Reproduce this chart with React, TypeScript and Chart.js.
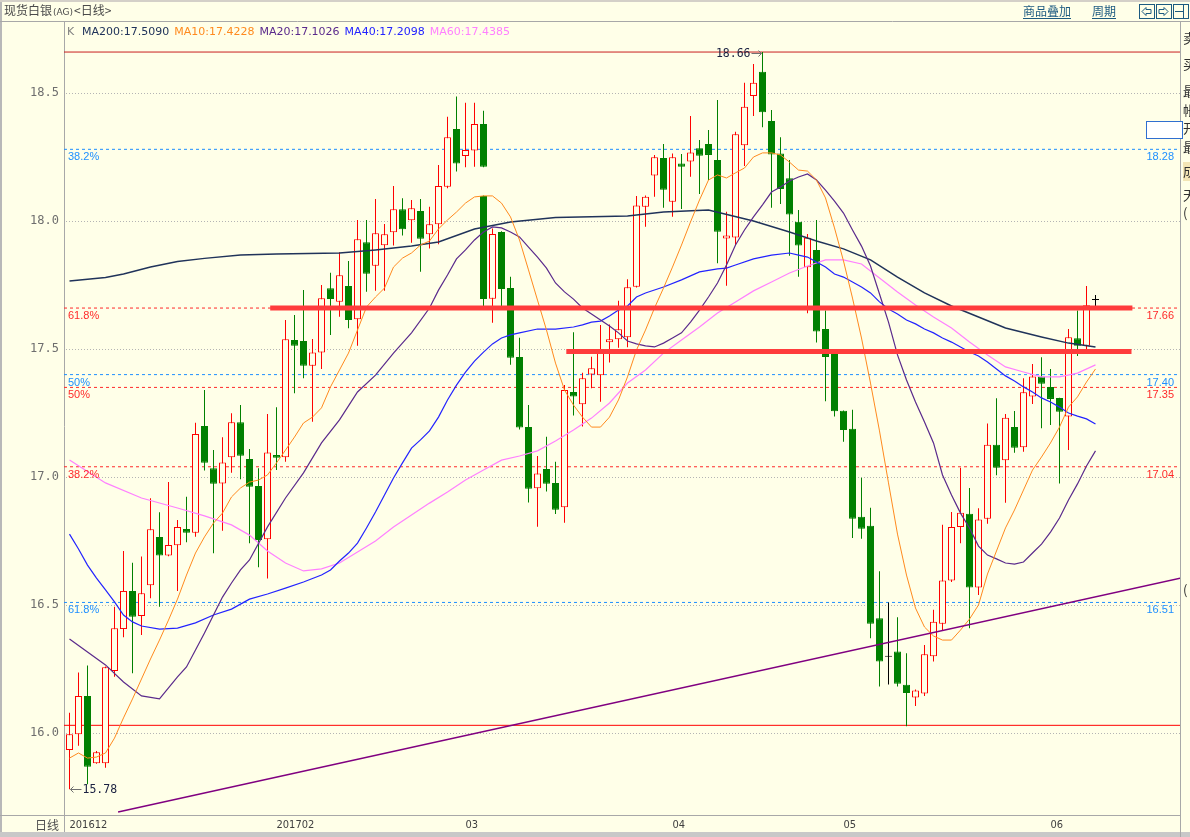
import React, { useEffect, useRef } from "react";
import { Chart, registerables } from "chart.js";

Chart.register(...registerables);

// ---------------- daily quotes (现货白银 AG, 2016-12 .. 2017-06) ----------------
const openP = [
  15.934, 15.995, 16.145, 15.882, 15.882, 16.242, 16.406, 16.555, 16.457, 16.577,
  16.766, 16.693, 16.733, 16.797, 16.782, 17.199, 17.034, 16.975, 17.077, 17.214,
  17.070, 16.965, 16.757, 17.086, 17.077, 17.535, 17.531, 17.435, 17.486, 17.737,
  17.685, 17.746, 17.616, 17.917, 17.825, 17.905, 17.956, 18.046, 18.003, 18.039,
  17.948, 17.987, 18.134, 18.359, 18.254, 18.275, 18.379, 18.098, 17.696, 17.957,
  17.738, 17.469, 17.195, 16.956, 17.031, 16.977, 16.882, 17.332, 17.284, 17.400,
  17.397, 17.526, 17.538, 17.546, 17.743, 18.056, 18.178, 18.246, 18.075, 18.225,
  18.232, 18.284, 18.301, 18.238, 17.932, 17.936, 18.296, 18.488, 18.583, 18.391,
  18.264, 18.167, 17.997, 17.819, 17.887, 17.578, 17.487, 17.259, 17.188, 16.845,
  16.810, 16.448, 16.298, 16.318, 16.188, 16.139, 16.154, 16.300, 16.427, 16.596,
  16.805, 16.856, 16.568, 16.837, 17.126, 17.065, 17.195, 17.116, 17.314, 17.393,
  17.352, 17.309, 17.236, 17.542, 17.513, 17.691,
];
const highP = [
  16.079, 16.236, 16.264, 15.930, 16.260, 16.493, 16.711, 16.665, 16.689, 16.917,
  16.862, 16.980, 16.832, 16.923, 17.212, 17.340, 17.105, 17.155, 17.249, 17.281,
  17.109, 17.034, 17.246, 17.272, 17.613, 17.633, 17.730, 17.539, 17.750, 17.798,
  17.878, 17.844, 18.004, 18.004, 18.086, 17.988, 18.137, 18.089, 18.082, 18.086,
  18.056, 18.219, 18.407, 18.486, 18.462, 18.462, 18.431, 18.100, 17.971, 17.960,
  17.782, 17.544, 17.281, 17.082, 17.157, 17.060, 17.359, 17.565, 17.407, 17.470,
  17.594, 17.596, 17.688, 17.772, 18.098, 18.100, 18.258, 18.301, 18.264, 18.262,
  18.410, 18.316, 18.355, 18.473, 18.036, 18.349, 18.540, 18.613, 18.660, 18.434,
  18.327, 18.238, 18.043, 17.949, 18.004, 17.650, 17.498, 17.260, 17.263, 16.997,
  16.880, 16.632, 16.510, 16.452, 16.312, 16.170, 16.344, 16.481, 16.813, 16.863,
  17.036, 16.957, 16.878, 17.209, 17.308, 17.246, 17.258, 17.386, 17.441, 17.468,
  17.422, 17.310, 17.578, 17.650, 17.746, 17.711,
];
const lowP = [
  15.780, 15.950, 15.800, 15.880, 15.864, 16.220, 16.374, 16.233, 16.383, 16.526,
  16.493, 16.690, 16.555, 16.745, 16.767, 17.025, 16.702, 16.790, 17.017, 16.991,
  16.741, 16.647, 16.604, 17.027, 17.060, 17.327, 17.386, 17.216, 17.422, 17.555,
  17.626, 17.581, 17.513, 17.724, 17.728, 17.728, 17.904, 17.943, 17.915, 17.802,
  17.893, 17.909, 18.128, 18.193, 18.210, 18.212, 18.210, 17.665, 17.603, 17.665,
  17.438, 17.186, 16.900, 16.806, 16.943, 16.855, 16.821, 17.240, 17.197, 17.347,
  17.294, 17.447, 17.505, 17.507, 17.740, 17.978, 18.095, 18.052, 18.017, 18.047,
  18.173, 18.105, 18.160, 17.835, 17.747, 17.906, 18.215, 18.410, 18.366, 18.052,
  18.066, 17.864, 17.782, 17.640, 17.525, 17.296, 17.236, 17.138, 16.762, 16.759,
  16.370, 16.182, 16.189, 16.182, 16.026, 16.105, 16.145, 16.279, 16.402, 16.590,
  16.741, 16.409, 16.539, 16.817, 17.007, 16.899, 17.095, 17.099, 17.285, 17.190,
  17.203, 16.975, 17.105, 17.473, 17.496, 17.668,
];
const closeP = [
  15.995, 16.145, 15.868, 15.925, 16.257, 16.409, 16.555, 16.454, 16.546, 16.796,
  16.693, 16.734, 16.805, 16.782, 17.168, 17.056, 16.974, 17.057, 17.214, 17.083,
  16.962, 16.754, 17.096, 17.075, 17.538, 17.513, 17.435, 17.486, 17.698, 17.695,
  17.788, 17.613, 17.929, 17.794, 17.952, 17.948, 18.046, 17.968, 18.050, 17.931,
  17.987, 18.137, 18.327, 18.225, 18.277, 18.379, 18.212, 17.695, 17.949, 17.734,
  17.466, 17.193, 16.954, 17.014, 16.974, 16.872, 17.340, 17.314, 17.386, 17.425,
  17.499, 17.538, 17.577, 17.741, 18.061, 18.095, 18.249, 18.122, 18.249, 18.212,
  18.268, 18.255, 18.258, 17.958, 17.943, 18.339, 18.446, 18.540, 18.425, 18.260,
  18.125, 18.025, 17.904, 17.935, 17.568, 17.469, 17.257, 17.184, 16.837, 16.798,
  16.427, 16.279, 16.298, 16.192, 16.156, 16.166, 16.308, 16.435, 16.596, 16.805,
  16.860, 16.568, 16.834, 17.126, 17.036, 17.231, 17.114, 17.331, 17.393, 17.364,
  17.305, 17.255, 17.546, 17.513, 17.671, 17.691,
];
// the 48th quote is plotted on the same day slot as the 47th (as in the source chart)
const SHARED_SLOT_FROM = 47;

// ---------------- moving averages ----------------
const ma10 = [
  15.902, 15.922, 15.902, 15.906, 15.922, 15.980, 16.059, 16.133, 16.211, 16.289,
  16.363, 16.441, 16.523, 16.617, 16.703, 16.766, 16.820, 16.859, 16.922, 16.957,
  16.980, 16.988, 17.008, 17.055, 17.105, 17.156, 17.211, 17.234, 17.270, 17.352,
  17.418, 17.484, 17.574, 17.664, 17.703, 17.738, 17.820, 17.855, 17.875, 17.906,
  17.922, 17.969, 18.004, 18.035, 18.070, 18.094, 18.098, 18.098, 18.070, 18.016,
  17.926, 17.809, 17.691, 17.574, 17.445, 17.340, 17.281, 17.234, 17.195, 17.195,
  17.234, 17.301, 17.391, 17.496, 17.574, 17.660, 17.738, 17.820, 17.906, 17.996,
  18.082, 18.160, 18.180, 18.168, 18.188, 18.207, 18.250, 18.266, 18.266, 18.258,
  18.230, 18.199, 18.195, 18.160, 18.090, 17.973, 17.844, 17.699, 17.543, 17.367,
  17.180, 16.977, 16.777, 16.617, 16.488, 16.414, 16.379, 16.363, 16.363, 16.402,
  16.445, 16.500, 16.621, 16.711, 16.801, 16.871, 16.949, 17.027, 17.078, 17.133,
  17.195, 17.273, 17.313, 17.371, 17.422,
];
const ma20Slot = [
  0, 2, 4, 6, 8, 10, 11, 12, 13, 14, 15, 16, 17, 18, 19, 20, 22, 24, 26, 28, 30, 32, 34, 36, 38,
  40, 41, 42, 43, 44, 45, 46, 47, 48, 49, 50, 51, 52, 53, 54, 55, 56, 57, 58, 59, 60, 61, 62, 63,
  64, 65, 66, 67, 68, 69, 70, 71, 72, 73, 74, 75, 76, 77, 78, 79, 80, 81, 82, 83, 84, 85, 86, 87,
  88, 89, 90, 91, 92, 93, 94, 95, 96, 97, 98, 99, 100, 101, 102, 103, 104, 105, 106, 107, 108,
  109, 110, 111, 112, 113, 114,
];
const ma20 = [
  16.367, 16.316, 16.266, 16.199, 16.145, 16.133, 16.176, 16.219, 16.258, 16.324, 16.391, 16.461,
  16.531, 16.586, 16.637, 16.676, 16.805, 16.918, 17.016, 17.133, 17.223, 17.332, 17.398, 17.484,
  17.563, 17.660, 17.730, 17.789, 17.852, 17.887, 17.926, 17.957, 17.977, 17.973, 17.957, 17.938,
  17.898, 17.859, 17.816, 17.758, 17.723, 17.695, 17.660, 17.637, 17.613, 17.590, 17.563, 17.531,
  17.520, 17.512, 17.508, 17.523, 17.543, 17.563, 17.605, 17.652, 17.703, 17.758, 17.828, 17.906,
  17.965, 18.016, 18.063, 18.113, 18.133, 18.156, 18.172, 18.184, 18.160, 18.121, 18.078, 18.031,
  17.965, 17.902, 17.824, 17.715, 17.605, 17.477, 17.379, 17.293, 17.215, 17.133, 17.008, 16.930,
  16.859, 16.801, 16.730, 16.695, 16.680, 16.664, 16.660, 16.668, 16.703, 16.738, 16.785, 16.840,
  16.910, 16.973, 17.043, 17.102,
];
const ma40Slot = [
  0, 1, 2, 3, 4, 5, 6, 7, 8, 10, 12, 14, 16, 18, 20, 22, 24, 26, 28, 29, 30, 31, 32, 33, 34, 35,
  36, 37, 38, 39, 40, 41, 42, 43, 44, 45, 46, 47, 48, 49, 50, 52, 54, 56, 57, 58, 59, 60, 61, 62,
  63, 64, 66, 68, 70, 72, 73, 74, 76, 78, 80, 81, 82, 83, 84, 85, 86, 87, 88, 89, 90, 91, 92, 93,
  94, 95, 96, 97, 98, 99, 100, 101, 102, 103, 104, 105, 106, 107, 108, 109, 110, 111, 112, 113, 114,
];
const ma40 = [
  16.777, 16.719, 16.656, 16.605, 16.559, 16.512, 16.461, 16.434, 16.418, 16.406, 16.410, 16.430,
  16.461, 16.484, 16.523, 16.543, 16.566, 16.590, 16.617, 16.637, 16.672, 16.703, 16.742, 16.801,
  16.863, 16.930, 16.996, 17.055, 17.113, 17.145, 17.180, 17.234, 17.301, 17.359, 17.410, 17.453,
  17.488, 17.520, 17.543, 17.555, 17.563, 17.578, 17.578, 17.586, 17.594, 17.605, 17.609, 17.629,
  17.652, 17.668, 17.703, 17.719, 17.742, 17.770, 17.801, 17.813, 17.816, 17.828, 17.852, 17.867,
  17.875, 17.867, 17.859, 17.840, 17.820, 17.793, 17.781, 17.762, 17.742, 17.719, 17.684, 17.656,
  17.637, 17.613, 17.598, 17.578, 17.563, 17.543, 17.527, 17.508, 17.488, 17.473, 17.449, 17.422,
  17.395, 17.375, 17.352, 17.332, 17.309, 17.293, 17.273, 17.250, 17.238, 17.227, 17.207,
];
const ma60Slot = [
  0, 4, 8, 12, 15, 18, 20, 22, 24, 26, 28, 30, 32, 34, 36, 38, 40, 42, 44, 46, 48, 50, 52, 54, 56,
  58, 60, 62, 64, 66, 68, 70, 72, 74, 76, 78, 80, 82, 84, 86, 88, 90, 92, 94, 96, 98, 100, 102,
  104, 106, 108, 110, 112, 114,
];
const ma60 = [
  17.066, 16.977, 16.918, 16.879, 16.848, 16.813, 16.773, 16.711, 16.664, 16.633, 16.641, 16.664,
  16.707, 16.750, 16.805, 16.852, 16.898, 16.941, 16.988, 17.027, 17.066, 17.082, 17.102, 17.141,
  17.184, 17.230, 17.289, 17.367, 17.418, 17.484, 17.535, 17.586, 17.641, 17.684, 17.727, 17.762,
  17.797, 17.824, 17.848, 17.848, 17.832, 17.777, 17.723, 17.672, 17.625, 17.582, 17.527, 17.477,
  17.430, 17.410, 17.391, 17.391, 17.406, 17.438,
];
const ma200Slot = [
  0, 4, 6, 9, 12, 15, 19, 23, 30, 34, 38, 41, 45, 49, 54, 62, 66, 71, 76, 80, 83, 86, 89, 92, 95,
  98, 101, 104, 108, 111, 114,
];
const ma200 = [
  17.766, 17.779, 17.793, 17.820, 17.842, 17.854, 17.867, 17.871, 17.875, 17.887, 17.902, 17.918,
  17.969, 17.996, 18.014, 18.020, 18.035, 18.043, 18.000, 17.957, 17.922, 17.891, 17.848, 17.781,
  17.719, 17.668, 17.625, 17.582, 17.547, 17.523, 17.508,
];
const maNames = ["MA200", "MA10", "MA20", "MA40", "MA60"];
const maLast = ["17.5090", "17.4228", "17.1026", "17.2098", "17.4385"];

// ---------------- axes ----------------
const yTicks = [16.0, 16.5, 17.0, 17.5, 18.0, 18.5];
const monthSlots = [0, 23, 44, 67, 86, 109];
const monthLabels = ["201612", "201702", "03", "04", "05", "06"];

// ---------------- drawings on the chart ----------------
const fibLevels = [18.28, 17.66, 17.40, 17.35, 17.04, 16.51];
const fibPct = ["38.2%", "61.8%", "50%", "50%", "38.2%", "61.8%"];
const fibGroup = [0, 1, 0, 1, 1, 0]; // 0 = blue set, 1 = red set
const extremeHigh = 18.66;
const extremeHighSlot = 77;
const extremeLow = 15.78;
const extremeLowSlot = 0;
const supportLow = 16.03;
const markLevels = [17.66, 17.49];
const markFrom = [22.3, 55.2];
const markTo = [118.1, 118.0];
const trendSlots = [5.4, 123.4];
const trendValues = [15.691, 16.605];

// ---------------- styles ----------------
const BG = "#ffffe8";
const UP = "#ff0000";
const DOWN = "#008000";
const FLAT = "#000000";
const MA_COLORS = ["#20335a", "#ff8a1e", "#5a2a8c", "#2323ff", "#ff80ff"];
const FIB_COLORS = ["#1e8fff", "#ff2a2a"];
const X_MIN = -0.6111;
const X_MAX = 123.3889;
const Y_MIN = 15.6797;
const Y_MAX = 18.78125;

const candleSlot = openP.map((_, i) => (i < SHARED_SLOT_FROM ? i : i - 1));
const candleColor = openP.map((o, i) => (closeP[i] > o ? UP : closeP[i] < o ? DOWN : FLAT));

function pts(xs: number[], ys: number[]) {
  return xs.map((x, i) => ({ x, y: ys[i] }));
}
function lineDs(data: any[], color: string, width: number, order: number, dash: number[] = []) {
  return {
    type: "line",
    data,
    borderColor: color,
    borderWidth: width,
    borderDash: dash,
    pointRadius: 0,
    pointHoverRadius: 0,
    tension: 0,
    fill: false,
    order,
  };
}

function arrow(ctx: CanvasRenderingContext2D, x0: number, x1: number, y: number, tipAtEnd: boolean) {
  ctx.beginPath();
  ctx.moveTo(x0, y);
  ctx.lineTo(x1, y);
  const tx = tipAtEnd ? x1 : x0;
  const d = tipAtEnd ? -3 : 3;
  ctx.moveTo(tx + d, y - 3);
  ctx.lineTo(tx, y);
  ctx.lineTo(tx + d, y + 3);
  ctx.stroke();
}

const decor = {
  id: "decor",
  beforeDraw(chart: any) {
    const { ctx, width, height } = chart;
    ctx.save();
    ctx.fillStyle = BG;
    ctx.fillRect(0, 0, width, height);
    ctx.fillStyle = "#d4d0c8";
    ctx.fillRect(0, 0, width, 2);
    ctx.fillStyle = "#c8c8c8";
    ctx.fillRect(0, 832, width, 5);
    ctx.fillStyle = "#b8b8b8";
    ctx.fillRect(0, 2, 2, 830);
    ctx.restore();
  },
  beforeDatasetsDraw(chart: any) {
    const { ctx, chartArea: ca, scales } = chart;
    const y = scales.y;
    ctx.save();
    ctx.strokeStyle = "#b4b4b4";
    ctx.lineWidth = 1;
    ctx.setLineDash([1, 2]);
    yTicks.forEach((t) => {
      const py = Math.round(y.getPixelForValue(t)) + 0.5;
      ctx.beginPath();
      ctx.moveTo(ca.left + 2, py);
      ctx.lineTo(ca.right, py);
      ctx.stroke();
    });
    ctx.setLineDash([]);
    ctx.strokeStyle = "#a8a8a8";
    ctx.beginPath();
    ctx.moveTo(0, 21.5);
    ctx.lineTo(chart.width, 21.5);
    ctx.moveTo(ca.left + 0.5, 21);
    ctx.lineTo(ca.left + 0.5, 832);
    ctx.moveTo(0, ca.bottom + 0.5);
    ctx.lineTo(ca.right, ca.bottom + 0.5);
    ctx.moveTo(ca.right + 0.5, 21);
    ctx.lineTo(ca.right + 0.5, 837);
    ctx.stroke();
    ctx.restore();
  },
  afterDraw(chart: any) {
    const { ctx, chartArea: ca, scales } = chart;
    const x = scales.x;
    const y = scales.y;
    ctx.save();

    // header
    ctx.textBaseline = "alphabetic";
    ctx.fillStyle = "#4a4a4a";
    let hx = 4;
    const parts: [string, string][] = [
      ["现货白银", "12px 'Noto Sans CJK SC', sans-serif"],
      ["(AG)", "9px 'DejaVu Sans', sans-serif"],
      ["<日线>", "12px 'Noto Sans CJK SC', sans-serif"],
    ];
    parts.forEach(([t, f]) => {
      ctx.font = f;
      ctx.fillText(t, hx, 15);
      hx += ctx.measureText(t).width + 1;
    });
    ctx.textBaseline = "middle";
    ctx.font = "12px 'Noto Sans CJK SC', sans-serif";
    ctx.fillStyle = "#1c5a80";
    ctx.strokeStyle = "#1c5a80";
    ctx.lineWidth = 1;
    [["商品叠加", 1023], ["周期", 1092]].forEach(([t, px]: any) => {
      ctx.fillText(t, px, 11);
      const w = ctx.measureText(t).width;
      ctx.beginPath();
      ctx.moveTo(px, 18.5);
      ctx.lineTo(px + w, 18.5);
      ctx.stroke();
    });
    // small navigation buttons
    [1139, 1156, 1173].forEach((bx, k) => {
      ctx.strokeRect(bx + 0.5, 4.5, 15, 14);
      ctx.beginPath();
      if (k === 0) {
        ctx.moveTo(bx + 12, 9.5); ctx.lineTo(bx + 7, 9.5); ctx.lineTo(bx + 7, 7.5); ctx.lineTo(bx + 3, 11.5);
        ctx.lineTo(bx + 7, 15.5); ctx.lineTo(bx + 7, 13.5); ctx.lineTo(bx + 12, 13.5); ctx.closePath();
      } else if (k === 1) {
        ctx.moveTo(bx + 3, 9.5); ctx.lineTo(bx + 8, 9.5); ctx.lineTo(bx + 8, 7.5); ctx.lineTo(bx + 12, 11.5);
        ctx.lineTo(bx + 8, 15.5); ctx.lineTo(bx + 8, 13.5); ctx.lineTo(bx + 3, 13.5); ctx.closePath();
      } else {
        ctx.moveTo(bx + 2, 11.5); ctx.lineTo(bx + 10, 11.5);
        ctx.moveTo(bx + 10.5, 5); ctx.lineTo(bx + 10.5, 18);
      }
      ctx.stroke();
    });

    // legend line
    ctx.font = "11px 'DejaVu Sans', sans-serif";
    ctx.fillStyle = "#808080";
    ctx.fillText("K", 67, 32);
    let lx = 82;
    maNames.forEach((n, i) => {
      const t = `${n}:${maLast[i]}`;
      ctx.fillStyle = MA_COLORS[i];
      ctx.fillText(t, lx, 32);
      lx += ctx.measureText(t).width + 5;
    });

    // fibonacci labels
    ctx.font = "11px 'Liberation Sans', Arial, sans-serif";
    fibLevels.forEach((lv, i) => {
      const py = y.getPixelForValue(lv);
      ctx.fillStyle = FIB_COLORS[fibGroup[i]];
      ctx.textAlign = "left";
      ctx.fillText(fibPct[i], ca.left + 4, py + 8);
      ctx.textAlign = "right";
      ctx.fillText(lv.toFixed(2), ca.right - 6, py + 8);
    });

    // extremes
    ctx.font = "11.5px 'DejaVu Sans Mono', monospace";
    ctx.strokeStyle = "#707070";
    ctx.lineWidth = 1;
    const hiX = x.getPixelForValue(extremeHighSlot);
    const hiY = Math.round(y.getPixelForValue(extremeHigh)) + 1.5;
    arrow(ctx, hiX - 11, hiX - 1, hiY, true);
    ctx.fillStyle = "#1a2040";
    ctx.textAlign = "right";
    ctx.fillText(extremeHigh.toFixed(2), hiX - 12, hiY + 0.5);
    const loX = x.getPixelForValue(extremeLowSlot);
    const loY = Math.round(y.getPixelForValue(extremeLow)) + 0.5;
    arrow(ctx, loX + 1, loX + 12, loY, false);
    ctx.textAlign = "left";
    ctx.fillText(extremeLow.toFixed(2), loX + 13, loY + 0.5);

    // bottom-left caption
    ctx.font = "12px 'Noto Sans CJK SC', sans-serif";
    ctx.fillStyle = "#505050";
    ctx.textAlign = "right";
    ctx.fillText("日线", ca.left - 5, 825);

    // clipped side panel at the right edge
    ctx.fillStyle = "#ffffff";
    ctx.fillRect(1146, 121, 37, 18);
    ctx.strokeStyle = "#2f6fd0";
    ctx.strokeRect(1146.5, 121.5, 36, 17);
    ctx.fillStyle = "#f3e5b5";
    ctx.fillRect(1183, 162, 7, 19);
    ctx.font = "13px 'Noto Sans CJK SC', sans-serif";
    ctx.fillStyle = "#303030";
    ctx.textAlign = "left";
    const sideChars = ["卖", "买", "最", "帐", "开", "最", "成", "天", "(", "("];
    const sideY = [38, 64, 91, 110, 128, 147, 171, 195, 213, 590];
    sideChars.forEach((c, i) => ctx.fillText(c, 1183, sideY[i]));
    ctx.restore();
  },
};

export default function App() {
  const ref = useRef<HTMLCanvasElement | null>(null);

  useEffect(() => {
    if (!ref.current) return;
    const wicks = openP.map((_, i) => ({ x: candleSlot[i], y: [lowP[i], highP[i]] }));
    const bodies = openP.map((o, i) => ({
      x: candleSlot[i],
      y: [Math.min(o, closeP[i]), Math.max(o, closeP[i])],
    }));
    const bodyFill = candleColor.map((c) => (c === UP ? BG : c));

    const datasets: any[] = [
      ...markLevels.map((lv, i) =>
        lineDs([{ x: markFrom[i], y: lv }, { x: markTo[i], y: lv }], "#ff3c3c", 5, 0)
      ),
      lineDs(pts(trendSlots, trendValues), "#800080", 1.5, 1),
      lineDs(pts(ma10.map((_, i) => i), ma10), MA_COLORS[1], 1, 2),
      lineDs(pts(ma20Slot, ma20), MA_COLORS[2], 1.2, 2),
      lineDs(pts(ma40Slot, ma40), MA_COLORS[3], 1.2, 2),
      lineDs(pts(ma60Slot, ma60), MA_COLORS[4], 1.2, 2),
      lineDs(pts(ma200Slot, ma200), MA_COLORS[0], 1.5, 2),
      {
        type: "bar",
        data: bodies,
        backgroundColor: bodyFill,
        borderColor: candleColor,
        borderWidth: 1,
        borderSkipped: false,
        barThickness: 7,
        grouped: false,
        minBarLength: 1,
        inflateAmount: 0,
        order: 5,
      },
      {
        type: "bar",
        data: wicks,
        backgroundColor: candleColor,
        borderWidth: 0,
        barThickness: 1,
        grouped: false,
        inflateAmount: 0,
        order: 6,
      },
      ...fibLevels.map((lv, i) =>
        lineDs([{ x: X_MIN, y: lv }, { x: X_MAX, y: lv }], FIB_COLORS[fibGroup[i]], 1, 8, [3, 3])
      ),
      lineDs([{ x: X_MIN, y: extremeHigh }, { x: X_MAX, y: extremeHigh }], "#c81e1e", 1, 8),
      lineDs([{ x: X_MIN, y: supportLow }, { x: X_MAX, y: supportLow }], "#ff0000", 1, 8),
    ];

    const chart = new Chart(ref.current, {
      type: "bar",
      data: { datasets },
      options: {
        responsive: false,
        animation: false,
        devicePixelRatio: 1,
        events: [],
        layout: { padding: { top: 21, right: 10, left: 0, bottom: 0 } },
        plugins: { legend: { display: false }, tooltip: { enabled: false } },
        scales: {
          x: {
            type: "linear",
            min: X_MIN,
            max: X_MAX,
            offset: false,
            bounds: "data",
            grid: { display: false, drawTicks: false, offset: false },
            border: { display: false },
            afterBuildTicks: (s: any) => {
              s.ticks = monthSlots.map((v) => ({ value: v }));
            },
            afterFit: (s: any) => {
              s.height = 22;
            },
            ticks: {
              autoSkip: false,
              maxRotation: 0,
              minRotation: 0,
              align: "start",
              padding: 4,
              color: "#404040",
              font: { family: "'Liberation Sans Narrow', 'DejaVu Sans Condensed', sans-serif", size: 11 },
              callback: (_v: any, i: number) => monthLabels[i],
            },
          },
          y: {
            type: "linear",
            min: Y_MIN,
            max: Y_MAX,
            bounds: "data",
            grid: { display: false, drawTicks: false },
            border: { display: false },
            afterBuildTicks: (s: any) => {
              s.ticks = yTicks.map((v) => ({ value: v }));
            },
            afterFit: (s: any) => {
              s.width = 64;
            },
            ticks: {
              padding: 5,
              color: "#6e6e6e",
              font: { family: "'DejaVu Sans Mono', monospace", size: 12 },
              callback: (v: any) => Number(v).toFixed(1),
            },
          },
        },
      } as any,
      plugins: [decor as any],
    } as any);
    return () => chart.destroy();
  }, []);

  return (
    <div style={{ position: "fixed", left: 0, top: 0, width: 1190, height: 837, background: BG }}>
      <canvas ref={ref} width={1190} height={837} style={{ display: "block" }} />
    </div>
  );
}
